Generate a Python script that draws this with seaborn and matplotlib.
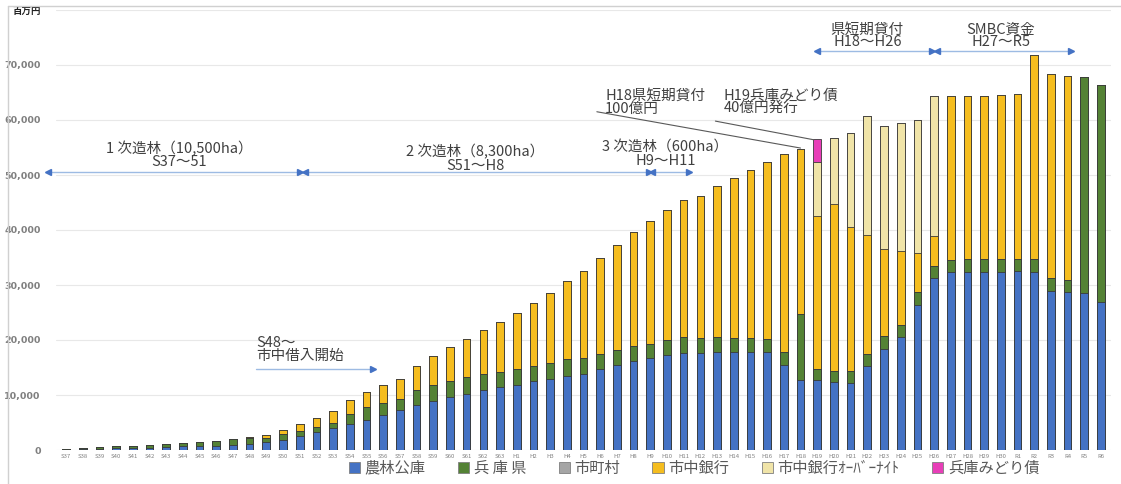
import matplotlib
matplotlib.use("Agg")
import matplotlib.pyplot as plt
from matplotlib.patches import Patch
from matplotlib.lines import Line2D
import seaborn as sns
import numpy as np

# Fiscal years (Showa / Heisei / Reiwa)
years = [f"S{n}" for n in range(37, 64)] + [f"H{n}" for n in range(1, 31)] + [f"R{n}" for n in range(1, 7)]

# Loan balances, million yen
nourin = [50, 150, 200, 300, 350, 450, 550, 650, 750, 800, 1000, 1150, 1500, 1800, 2600, 3350, 4000, 4700, 5500,
          6400, 7200, 8100, 8900, 9600, 10200, 10900, 11400,
          11900, 12500, 13000, 13500, 13900, 14700, 15500, 16200, 16700, 17200,
          17700, 17700, 17900, 17900, 17900, 17900, 15500, 12800, 12700, 12400,
          12100, 15200, 18400, 20600, 26400, 31300, 32300, 32300, 32400, 32400,
          32600, 32300, 29000, 28800, 28500, 27000]
hyogo = [50, 200, 300, 400, 450, 550, 600, 650, 750, 850, 950, 950, 750, 1100, 900, 850, 1000, 1900, 2300,
         2200, 2000, 2800, 2900, 2900, 3000, 2900, 2800,
         2900, 2800, 2800, 3000, 2800, 2700, 2700, 2700, 2600, 2800,
         2800, 2700, 2600, 2500, 2400, 2200, 2300, 12000, 2000, 2000,
         2300, 2300, 2300, 2200, 2300, 2200, 2200, 2400, 2300, 2300,
         2200, 2400, 2200, 2200, 39300, 39400]
shichoson = [0] * 63
ginko = [0, 0, 0, 0, 0, 0, 0, 0, 0, 0, 0, 300, 450, 700, 1200, 1600, 2100, 2500, 2700,
         3200, 3800, 4400, 5300, 6200, 6900, 8000, 9100,
         10100, 11400, 12700, 14200, 15900, 17600, 19100, 20700, 22300, 23600,
         25000, 25700, 27500, 29000, 30600, 32300, 36000, 30000, 27800, 30400,
         26200, 21600, 15800, 13400, 7200, 5400, 29900, 29700, 29700, 29800,
         29900, 37100, 37100, 37000, 0, 0]
overnight = [0] * 45 + [9900, 12000, 17100, 21600, 22400, 23300, 24100, 25500] + [0] * 10
midori = [0] * 45 + [4100] + [0] * 17

series = [
    ("農林公庫", nourin, "#4472C4"),
    ("兵 庫 県", hyogo, "#548235"),
    ("市町村", shichoson, "#A5A5A5"),
    ("市中銀行", ginko, "#F5BD1F"),
    ("市中銀行ｵｰﾊﾞｰﾅｲﾄ", overnight, "#F0E4A8"),
    ("兵庫みどり債", midori, "#E83EB8"),
]

sns.set_style("white")
plt.rcParams["font.family"] = ["Noto Sans CJK JP", "DejaVu Sans"]

fig = plt.figure(figsize=(11.21, 4.84), dpi=100)
ax = fig.add_axes([56 / 1121, 34 / 484, (1111 - 56) / 1121, (450 - 10) / 484])

# stacked bars: draw cumulative totals from the top layer down
cum = np.cumsum([np.array(s[1], dtype=float) for s in series], axis=0)
for k in range(len(series) - 1, -1, -1):
    sns.barplot(x=years, y=cum[k], order=years, color=series[k][2], saturation=1,
                width=0.46, edgecolor="#3a3a3a", linewidth=0.6, ax=ax, zorder=3)

ax.set_xlim(-0.6, 62.6)
ax.set_ylim(0, 80000)
ax.set_yticks(range(0, 80001, 10000))
ylabels = [f"{v:,}" for v in range(0, 80000, 10000)] + ["百万円"]
ax.set_yticklabels(ylabels, fontsize=6.8, fontweight="bold", color="#7f7f7f", family=["DejaVu Sans"])
ax.get_yticklabels()[-1].set_color("#222222")
ax.get_yticklabels()[-1].set_family(["Noto Sans CJK JP"])
ax.tick_params(axis="y", length=0, pad=11)
ax.tick_params(axis="x", length=0, pad=3, labelsize=4.3, labelcolor="#808080")
ax.set_xlabel("")
ax.set_ylabel("")
ax.grid(axis="y", color="#e8e8e8", linewidth=0.8)
ax.set_axisbelow(True)
for sp in ax.spines.values():
    sp.set_visible(False)

txt = dict(color="#404040", fontsize=10.5, ha="center", va="center", linespacing=0.9)
note = dict(color="#404040", fontsize=10.5, ha="left", va="center", linespacing=0.9)


def span_arrow(x0, x1, y, left=True):
    ax.plot([x0, x1], [y, y], color="#9dbbe3", lw=1.0, clip_on=False, zorder=4)
    if left:
        ax.plot([x0], [y], marker="<", color="#4472C4", ms=4.5, clip_on=False, zorder=5)
    ax.plot([x1], [y], marker=">", color="#4472C4", ms=4.5, clip_on=False, zorder=5)


# planting periods
ax.text(6.8, 53600, "1 次造林（10,500ha）\nS37～51", **txt)
ax.text(24.5, 53000, "2 次造林（8,300ha）\nS51～H8", **txt)
ax.text(35.9, 53800, "3 次造林（600ha）\nH9～H11", **txt)
span_arrow(-1.1, 14.0, 50500)
span_arrow(14.3, 34.9, 50500)
span_arrow(35.1, 37.3, 50500)

# market borrowing
ax.text(11.4, 18300, "S48～\n市中借入開始", **note)
span_arrow(11.4, 18.4, 14700, left=False)

# loan sources
ax.text(48.0, 75300, "県短期貸付\nH18～H26", **txt)
ax.text(56.0, 75300, "SMBC資金\nH27～R5", **txt)
span_arrow(45.0, 51.9, 72500)
span_arrow(52.2, 60.2, 72500)

# callouts
ax.text(32.3, 63200, "H18県短期貸付\n100億円", **note)
ax.text(39.4, 63200, "H19兵庫みどり債\n40億円発行", **note)
ax.plot([31.8, 44.0], [61500, 54900], color="#595959", lw=0.8, zorder=4)
ax.plot([38.9, 44.8], [59800, 56400], color="#595959", lw=0.8, zorder=4)

handles = [Patch(facecolor=c, edgecolor="#7f7f7f", linewidth=0.6) for _, _, c in series]
fig.legend(handles, [s[0] for s in series], loc="center", bbox_to_anchor=(694 / 1121, 16 / 484),
           ncol=6, frameon=False, fontsize=11, labelcolor="#595959", handlelength=0.75, handleheight=0.75,
           handletextpad=0.3, columnspacing=2.1)

# picture frame
fig.add_artist(Line2D([8 / 1121, 8 / 1121], [0, 1 - 6 / 484], color="#d0d0d0", lw=1))
fig.add_artist(Line2D([8 / 1121, 1], [1 - 6 / 484, 1 - 6 / 484], color="#d0d0d0", lw=1))

fig.savefig("out.png", dpi=100)
